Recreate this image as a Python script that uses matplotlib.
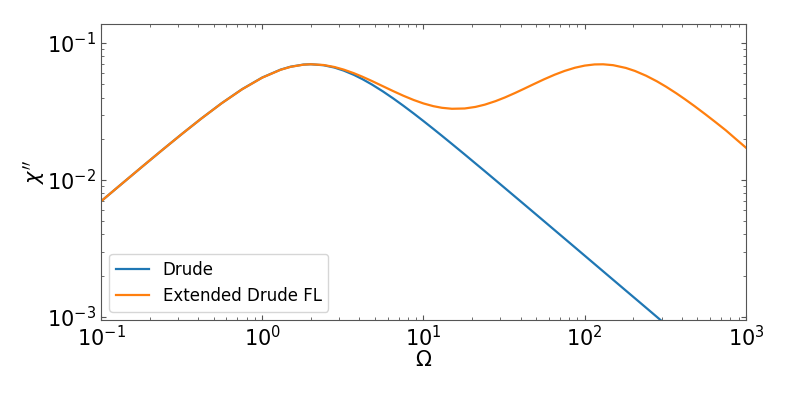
import matplotlib
matplotlib.use('Agg')
import matplotlib.pyplot as plt

# frequencies (Omega)
omega = [0.1, 0.13, 0.18, 0.24, 0.32, 0.42, 0.56, 0.75, 1.0, 1.3,
         1.5, 1.8, 2.0, 2.4, 2.8, 3.2, 3.7, 4.2, 4.8, 5.6,
         6.5, 7.5, 8.7, 10, 11.5, 13, 15, 18, 21, 24,
         28, 32, 37, 42, 48, 56, 65, 75, 87, 100,
         115, 130, 150, 180, 205, 240, 280, 320, 370, 420,
         480, 560, 650, 750, 870, 1000]

# Drude curve
drude = [0.00698, 0.00906, 0.0125, 0.01656, 0.02184, 0.02816, 0.03635, 0.04603, 0.056, 0.06397,
         0.0672, 0.06961, 0.07, 0.06885, 0.06622, 0.06292, 0.05856, 0.05434, 0.0497, 0.04434,
         0.03935, 0.03485, 0.03057, 0.02692, 0.02363, 0.02104, 0.01834, 0.01537, 0.01321, 0.01159,
         0.00995, 0.008716, 0.007545, 0.006652, 0.005823, 0.004994, 0.004304, 0.003731, 0.003217, 0.002799,
         0.002434, 0.002153, 0.001866, 0.001555, 0.001366, 0.001167, 0.001, 0.000875, 0.000757, 0.000667,
         0.000583, 0.0005, 0.000431, 0.000373, 0.000322, 0.00028]

# Extended Drude FL curve
ext_fl = [0.00698, 0.00906, 0.0125, 0.01656, 0.02183, 0.02814, 0.03631, 0.04595, 0.05587, 0.0638,
          0.06703, 0.06952, 0.06999, 0.06911, 0.06685, 0.06398, 0.06021, 0.05661, 0.05273, 0.04838,
          0.04451, 0.04123, 0.03836, 0.03621, 0.0346, 0.03366, 0.03311, 0.03327, 0.03416, 0.03549,
          0.03766, 0.04006, 0.0432, 0.04633, 0.04995, 0.05438, 0.05869, 0.06257, 0.06603, 0.06843,
          0.06978, 0.06995, 0.06891, 0.06577, 0.06251, 0.05773, 0.05256, 0.04792, 0.04293, 0.03874,
          0.03459, 0.03017, 0.02633, 0.02304, 0.0198, 0.0172]

fig = plt.figure(figsize=(7.89, 3.95), dpi=100)
ax = fig.add_axes([0.128, 0.19, 0.8175, 0.7492])

ax.plot(omega, drude, color='tab:blue', lw=1.6, label='Drude')
ax.plot(omega, ext_fl, color='tab:orange', lw=1.6, label='Extended Drude FL')

ax.set_xscale('log')
ax.set_yscale('log')
ax.set_xlim(0.1, 1000)
ax.set_ylim(0.00095, 0.1377)

ax.tick_params(which='both', direction='in', top=True, right=True, color='#555555')
ax.tick_params(which='major', labelsize=15)
for s in ax.spines.values():
    s.set_color('#555555')

ax.set_xlabel(r'$\Omega$', fontsize=15, labelpad=0)
ax.set_ylabel(r"$\chi''$", fontsize=15, labelpad=0)
ax.legend(loc='lower left', fontsize=12)

fig.savefig('out.png', dpi=100)
